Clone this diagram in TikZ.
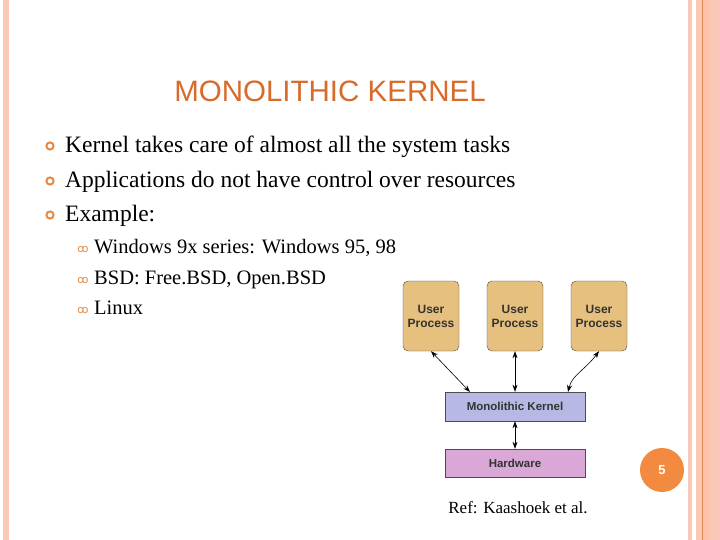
\documentclass[tikz,border=0pt]{standalone}
\usepackage{fontspec}
\setmainfont{Liberation Serif}
\newfontfamily\arial{Liberation Sans}
\newfontfamily\dejavu{DejaVu Sans}
\definecolor{stripe}{HTML}{F9C8B6}
\definecolor{stripeD}{HTML}{FFC2AA}
\definecolor{orng}{HTML}{D86B2B}
\definecolor{bul}{HTML}{E58A45}
\definecolor{ubox}{HTML}{E6C07E}
\definecolor{kbox}{HTML}{B7B9E4}
\definecolor{hbox}{HTML}{D9A8D6}
\definecolor{circ}{HTML}{F28A3F}
\usetikzlibrary{arrows.meta}
\begin{document}
\begin{tikzpicture}[x=1pt,y=-1pt,
  ubx/.style={draw=black!70,fill=ubox,rounded corners=5pt,minimum width=56pt,minimum height=70pt,font=\arial\bfseries\fontsize{12}{14}\selectfont,align=center,text=black!80},
  kbx/.style={draw=black!70,minimum width=140pt,minimum height=29pt,font=\arial\bfseries\fontsize{11.5}{13}\selectfont,text=black!80},
  arr/.style={{Stealth[length=7pt,width=5pt]}-{Stealth[length=7pt,width=5pt]},semithick},
  body/.style={anchor=base west,inner sep=0pt,font=\fontsize{23.5}{26}\selectfont},
  sub/.style={anchor=base west,inner sep=0pt,font=\fontsize{20.5}{24}\selectfont}]
\useasboundingbox (0,0) rectangle (720,540);
\fill[white] (0,0) rectangle (720,540);
\fill[stripe] (3,0) rectangle (9,540);
\fill[stripe] (688,0) rectangle (692,540);
\fill[stripe] (696,0) rectangle (720,540);
\fill[stripeD] (702,0) rectangle (710,540);
\draw[orng!80,line width=0.8pt] (702,0) -- (702,540);
\node[font=\arial\fontsize{29.5}{32}\selectfont,text=orng] (title) at (330,91) {MONOLITHIC KERNEL};
\foreach \y/\t [count=\i] in {153/Kernel takes care of almost all the system tasks,188/Applications do not have control over resources,222/Example:}{
  \draw[bul,line width=2pt] (50,\y-7) circle (3.6pt);
  \node[body] (b\i) at (65,\y) {\t};}
\foreach \y/\t [count=\i] in {253/{Windows 9x series: Windows 95, 98},284/{BSD: Free.BSD, Open.BSD},314/Linux}{
  \node[anchor=base east,text=bul,font=\dejavu\fontsize{11}{12}\selectfont] (s\i b) at (92,\y-1) {ꝏ};
  \node[sub] (s\i) at (94,\y) {\t};}
\node[ubx] (u1) at (431,316) {User\\Process};
\node[ubx] (u2) at (515,316) {User\\Process};
\node[ubx] (u3) at (599,316) {User\\Process};
\node[kbx,fill=kbox] (k) at (515,406.5) {Monolithic Kernel};
\node[kbx,fill=hbox,minimum height=28pt] (h) at (515,463) {Hardware};
\draw[arr] (u1.south) -- (470,392);
\draw[arr] (u2.south) -- (k.north);
\draw[arr] (u3.south) .. controls (585,370) and (572,375) .. (568,392);
\draw[arr] (k.south) -- (h.north);
\node[circle,fill=circ,minimum size=44pt,text=white,font=\arial\bfseries\fontsize{13}{15}\selectfont] (pg) at (662,470) {5};
\node[font=\fontsize{17}{19}\selectfont] (ref) at (518,508) {Ref: Kaashoek et al.};
\end{tikzpicture}
\end{document}
